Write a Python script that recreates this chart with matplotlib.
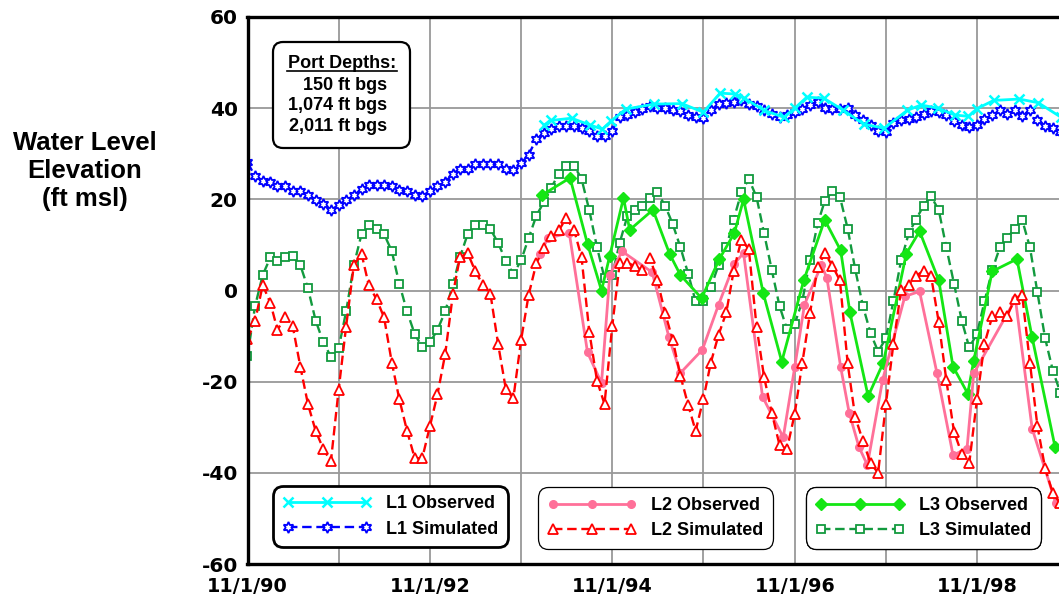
import pandas as pd
import matplotlib
matplotlib.use('Agg')
import matplotlib.pyplot as plt
import matplotlib.dates as mdates
from matplotlib.ticker import FuncFormatter, MultipleLocator
from matplotlib.patches import FancyBboxPatch
from matplotlib.lines import Line2D
from matplotlib.transforms import IdentityTransform

W, H = 1059, 597

# simulated heads, monthly from 11/1/90
sim_start = '1990-11-01'
l1_sim = [28.1, 25.1, 24.0, 23.8, 22.9, 22.9, 21.8, 21.8, 20.9, 19.9, 18.9, 17.7,
          18.7, 19.9, 20.9, 22.2, 23.1, 23.1, 23.1, 22.9, 22.0, 21.8, 20.9, 20.7,
          21.8, 22.9, 23.8, 25.6, 26.7, 26.7, 27.7, 27.7, 27.7, 27.7, 26.7, 26.5,
          27.9, 29.8, 33.2, 34.5, 35.4, 36.0, 36.0, 36.0, 35.6, 34.9, 34.0, 33.8,
          35.1, 38.1, 38.6, 39.2, 39.9, 40.4, 40.1, 40.1, 39.7, 39.3, 38.6, 38.1,
          37.9, 39.5, 41.0, 41.1, 41.3, 41.9, 41.0, 40.4, 39.5, 38.8, 38.1, 38.6,
          39.2, 39.9, 40.8, 41.3, 40.1, 39.9, 39.9, 40.0, 38.6, 37.3, 36.2, 35.1,
          34.8, 36.8, 37.3, 37.7, 38.1, 38.8, 39.3, 39.2, 38.4, 37.1, 36.2, 35.9,
          36.2, 37.7, 38.4, 39.5, 38.8, 39.5, 38.3, 39.5, 37.4, 36.1, 35.6, 34.7]
l2_sim = [-10.7, -6.8, 1.2, -2.8, -8.6, -5.9, -7.8, -16.8, -24.9, -30.8, -34.8, -37.5,
          -21.8, -7.9, 5.6, 8.0, 1.1, -1.9, -5.9, -15.8, -23.8, -30.8, -36.8, -36.8,
          -29.7, -22.8, -13.9, -0.7, 7.3, 8.2, 4.3, 1.2, -0.7, -11.8, -21.7, -23.6,
          -10.8, -1.0, 6.0, 9.3, 12.0, 13.2, 15.9, 13.3, 7.3, -9.0, -19.8, -24.9,
          -7.8, 6.1, 6.1, 5.3, 4.4, 7.1, 2.2, -5.0, -10.8, -18.7, -25.1, -30.8,
          -23.8, -15.8, -9.7, -4.8, 4.2, 11.1, 9.1, -7.9, -18.9, -26.8, -33.9, -34.8,
          -27.0, -16.0, -5.0, 5.1, 8.2, 5.4, 2.2, -16.0, -27.7, -33.0, -37.9, -40.0,
          -25.0, -11.8, 0.1, 1.2, 3.2, 4.3, 3.2, -7.0, -19.6, -31.0, -35.8, -37.9,
          -23.9, -11.7, -5.7, -4.8, -5.7, -1.9, -1.0, -15.8, -29.7, -39.0, -44.5, -46.7]
l3_sim = [-14.3, -3.5, 3.4, 7.3, 6.5, 7.3, 7.5, 5.5, 0.5, -6.6, -11.4, -14.5,
          -12.7, -4.6, 5.6, 12.4, 14.4, 13.5, 12.4, 8.6, 1.5, -4.6, -9.6, -12.4,
          -11.4, -8.6, -4.6, 1.4, 7.3, 12.4, 14.4, 14.4, 13.5, 10.4, 6.5, 3.6,
          6.6, 11.5, 16.4, 19.5, 22.5, 25.6, 27.4, 27.4, 24.5, 17.6, 9.5, 2.7,
          3.4, 10.5, 16.4, 17.6, 18.6, 20.4, 21.5, 18.6, 14.6, 9.5, 3.7, -2.4,
          -2.4, 0.7, 5.6, 9.5, 15.5, 21.5, 24.5, 20.5, 12.6, 4.5, -3.4, -8.5,
          -7.3, -2.4, 6.6, 14.7, 19.6, 21.8, 20.5, 13.6, 4.7, -3.4, -9.4, -13.4,
          -10.5, -2.4, 6.6, 12.6, 15.5, 18.6, 20.7, 17.6, 9.5, 1.5, -6.6, -12.5,
          -9.5, -2.4, 4.5, 9.5, 11.5, 13.5, 15.5, 9.5, -0.4, -10.5, -17.6, -22.4]

# observed heads
l1_obs_dates = ['1994-02-01', '1994-03-01', '1994-05-22', '1994-08-04', '1994-09-22',
                '1994-10-28', '1994-12-25', '1995-04-19', '1995-08-07', '1995-11-01',
                '1996-01-07', '1996-03-07', '1996-04-13', '1996-07-01', '1996-09-19',
                '1996-11-01', '1996-12-19', '1997-02-25', '1997-05-13', '1997-08-04',
                '1997-10-25', '1998-01-25', '1998-03-22', '1998-05-28', '1998-08-04',
                '1998-09-28', '1998-11-01', '1999-01-07', '1999-04-19', '1999-07-04',
                '1999-10-04']
l1_obs = [36.3, 37.3, 37.8, 36.3, 35.4, 37.2, 39.8, 40.9, 41.0, 39.1,
          43.3, 43.1, 42.2, 39.5, 38.0, 40.0, 42.4, 42.2, 39.6, 36.5,
          35.6, 39.5, 40.7, 40.0, 38.5, 38.2, 39.9, 41.7, 42.0, 41.2,
          38.0]

l2_obs_dates = ['1994-01-16', '1994-02-16', '1994-05-13', '1994-07-25', '1994-09-19',
                '1994-10-22', '1994-12-10', '1995-04-10', '1995-06-16', '1995-08-01',
                '1995-10-28', '1996-01-01', '1996-03-04', '1996-04-10', '1996-06-25',
                '1996-09-16', '1996-11-01', '1996-12-10', '1997-02-16', '1997-03-10',
                '1997-05-04', '1997-06-07', '1997-07-16', '1997-08-19', '1997-10-19',
                '1998-01-16', '1998-03-16', '1998-05-25', '1998-07-28', '1998-09-22',
                '1998-10-19', '1999-04-04', '1999-06-10', '1999-09-13']
l2_obs = [8.0, 11.5, 12.6, -13.6, -20.3, 3.4, 8.6, 4.0, -10.2, -18.1,
          -13.0, -3.1, 5.9, 8.2, -23.3, -32.2, -16.8, -3.1, 5.6, 2.7,
          -16.8, -26.8, -34.3, -38.3, -19.6, -1.3, -0.2, -18.2, -36.1, -34.7,
          -18.2, -1.9, -30.3, -46.7]

l3_obs_dates = ['1994-01-25', '1994-05-16', '1994-07-25', '1994-09-19', '1994-10-22',
                '1994-12-16', '1995-01-10', '1995-04-13', '1995-06-19', '1995-08-01',
                '1995-10-25', '1996-01-04', '1996-03-04', '1996-04-10', '1996-06-28',
                '1996-09-10', '1996-12-07', '1997-03-01', '1997-05-04', '1997-06-10',
                '1997-08-22', '1997-10-22', '1998-01-22', '1998-03-16', '1998-06-01',
                '1998-07-28', '1998-09-25', '1998-10-19', '1999-01-01', '1999-04-10',
                '1999-06-10', '1999-09-10']
l3_obs = [21.0, 24.7, 10.2, 0.0, 7.6, 20.3, 13.3, 17.7, 8.0, 3.4,
          -1.7, 6.9, 12.6, 20.0, -0.6, -15.6, 2.2, 15.5, 8.8, -4.8,
          -23.2, -15.8, 8.1, 13.0, 2.2, -16.7, -22.6, -15.4, 4.2, 6.9,
          -10.3, -34.4]

port_depths = ['150 ft bgs', '1,074 ft bgs', '2,011 ft bgs']


def fx(px):
    return px / W


def fy(py):
    return 1 - py / H


plt.rcParams['font.family'] = ['Liberation Sans', 'DejaVu Sans']
plt.rcParams['font.weight'] = 'bold'
plt.rcParams['axes.unicode_minus'] = False

fig = plt.figure(figsize=(W / 100, H / 100), dpi=100)
ax = fig.add_axes([fx(247.5), fy(564), fx(1059 - 247.5) + 0.002, (564 - 17) / H])

sim_dates = pd.date_range(sim_start, periods=len(l1_sim), freq='MS')

dash = (4.0, 2.0)
l3s, = ax.plot(sim_dates, l3_sim, color='#129a3e', lw=1.7, dashes=dash, marker='s', ms=6,
               mfc='white', mec='#129a3e', mew=1.3, label='L3 Simulated')
l3o, = ax.plot(pd.to_datetime(l3_obs_dates), l3_obs, color='#14e614', lw=2.0, marker='D',
               ms=6, mfc='#14e614', mec='#14e614', label='L3 Observed')
l2o, = ax.plot(pd.to_datetime(l2_obs_dates), l2_obs, color='#ff7099', lw=2.0, marker='o',
               ms=5.5, mfc='#ff7099', mec='#ff7099', label='L2 Observed')
l2s, = ax.plot(sim_dates, l2_sim, color='#ff0000', lw=1.7, dashes=dash, marker='^', ms=6.5,
               mfc='white', mec='#ff0000', mew=1.3, label='L2 Simulated')
l1s, = ax.plot(sim_dates, l1_sim, color='#0000ff', lw=1.7, dashes=dash, marker=(6, 1, 0),
               ms=8, mfc='white', mec='#0000ff', mew=1.3, label='L1 Simulated')
l1o, = ax.plot(pd.to_datetime(l1_obs_dates), l1_obs, color='#00ffff', lw=2.0, marker='x',
               ms=7.5, mew=1.8, label='L1 Observed')

ax.set_xlim(pd.Timestamp('1990-11-01'), pd.Timestamp('1999-10-04'))
ax.set_ylim(-60, 60)
ax.yaxis.set_major_locator(MultipleLocator(20))
ax.xaxis.set_major_locator(mdates.YearLocator(2, month=11, day=1))
ax.xaxis.set_minor_locator(mdates.YearLocator(1, month=11, day=1))


def date_fmt(x, pos):
    d = mdates.num2date(x)
    return f'{d.month}/{d.day}/{d.year % 100:02d}'


ax.xaxis.set_major_formatter(FuncFormatter(date_fmt))
ax.grid(True, which='both', axis='x', color='#999999', lw=1.3)
ax.grid(True, which='major', axis='y', color='#999999', lw=1.3)
ax.set_axisbelow(True)
ax.tick_params(axis='both', which='both', length=0)
ax.tick_params(axis='y', pad=7)
ax.tick_params(axis='x', pad=9)
for s in ['left', 'top', 'bottom']:
    ax.spines[s].set_linewidth(2.4)
ax.spines['right'].set_visible(False)
for lab in ax.get_xticklabels():
    lab.set_family('DejaVu Sans')
    lab.set_fontweight('bold')
    lab.set_fontsize(13.8)
for lab in ax.get_yticklabels():
    lab.set_family('DejaVu Sans')
    lab.set_fontweight('bold')
    lab.set_fontsize(14.5)

fig.text(fx(85), fy(171), 'Water Level\nElevation\n(ft msl)', ha='center', va='center',
         fontsize=18.5, fontweight='bold', linespacing=1.2)

# port depth box
box = FancyBboxPatch((273, H - 148), 137, 106, boxstyle='round,pad=0,rounding_size=10',
                     transform=IdentityTransform(), fc='white', ec='black', lw=1.6, zorder=5)
fig.patches.append(box)
fig.text(fx(342), fy(68.5), 'Port Depths:', ha='center', va='baseline', fontsize=13,
         fontweight='bold', zorder=6)
fig.lines.append(Line2D([fx(287), fx(397)], [fy(71), fy(71)], transform=fig.transFigure,
                        color='black', lw=1.2, zorder=6))
for txt, by in zip(port_depths, [90, 110.5, 131]):
    fig.text(fx(387), fy(by), txt, ha='right', va='baseline', fontsize=13,
             fontweight='bold', zorder=6)

# legends
leg_kw = dict(loc='center', numpoints=3, handlelength=4.9, handletextpad=0.85,
              labelspacing=0.45, borderpad=0.55, fancybox=True, framealpha=1,
              edgecolor='black', prop={'size': 13, 'weight': 'bold'})
legs = [([l1o, l1s], (268, 484, 513, 549), 2.0),
        ([l2o, l2s], (535, 486, 776, 550), 0.9),
        ([l3o, l3s], (803, 487, 1044, 549), 0.9)]
for hs, (x0, y0, x1, y1), elw in legs:
    lg = ax.legend(hs, [h.get_label() for h in hs],
                   bbox_to_anchor=(fx((x0 + x1) / 2), fy((y0 + y1) / 2)),
                   bbox_transform=fig.transFigure, **leg_kw)
    lg.get_frame().set_boxstyle('round,pad=0,rounding_size=0.6')
    lg.get_frame().set_linewidth(elw)
    lg.set_zorder(10)
    ax.add_artist(lg)

fig.savefig('out.png', dpi=100)
